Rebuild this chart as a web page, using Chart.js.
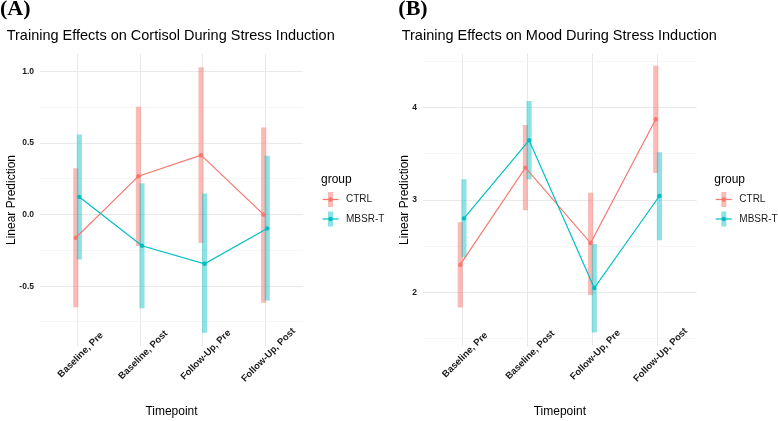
<!DOCTYPE html>
<html><head><meta charset="utf-8">
<script src="https://cdn.jsdelivr.net/npm/chart.js@4/dist/chart.umd.min.js"></script>
<style>
html,body{margin:0;padding:0;background:#fff;width:778px;height:421px;overflow:hidden}
canvas{position:absolute;top:0}
</style></head><body>
<canvas id="cA" width="389" height="421" style="left:0"></canvas>
<canvas id="cB" width="389" height="421" style="left:389px"></canvas>
<script>
// ---------- data ----------
const timepoints = ["Baseline, Pre", "Baseline, Post", "Follow-Up, Pre", "Follow-Up, Post"];
const groups = ["CTRL", "MBSR-T"];

const cortisolCtrl     = [-0.161, 0.269, 0.416, 0.000];
const cortisolCtrlLow  = [-0.645, -0.217, -0.196, -0.614];
const cortisolCtrlHigh = [0.322, 0.752, 1.028, 0.607];
const cortisolMbsr     = [0.124, -0.217, -0.343, -0.096];
const cortisolMbsrLow  = [-0.311, -0.652, -0.823, -0.598];
const cortisolMbsrHigh = [0.558, 0.217, 0.145, 0.409];

const moodCtrl     = [2.300, 3.350, 2.534, 3.874];
const moodCtrlLow  = [1.841, 2.892, 1.975, 3.296];
const moodCtrlHigh = [2.755, 3.809, 3.076, 4.448];
const moodMbsr     = [2.801, 3.646, 2.047, 3.043];
const moodMbsrLow  = [2.383, 3.227, 1.570, 2.567];
const moodMbsrHigh = [3.220, 4.069, 2.520, 3.513];

const cortisolMajorTicks = [-0.5, 0, 0.5, 1.0];
const cortisolMajorLabels = ["-0.5", "0.0", "0.5", "1.0"];
const cortisolMinorTicks = [-0.75, -0.25, 0.25, 0.75];
const moodMajorTicks = [2, 3, 4];
const moodMajorLabels = ["2", "3", "4"];
const moodMinorTicks = [1.5, 2.5, 3.5, 4.5];

// ---------- style ----------
const COLORS = ["#F8766D", "#00BFC4"];
const FILLS = ["rgba(248,118,109,0.5)", "rgba(0,191,196,0.45)"];
const SANS = '"Liberation Sans", Arial, sans-serif';
const DODGE = 0.028;

function makePanel(id, p) {
  const series = [
    {mid: p.ctrl, lo: p.ctrlLow, hi: p.ctrlHigh, d: -DODGE},
    {mid: p.mbsr, lo: p.mbsrLow, hi: p.mbsrHigh, d: DODGE}
  ];
  const datasets = [];
  series.forEach((s, k) => {
    datasets.push({
      type: 'bar', label: groups[k] + ' CI',
      data: timepoints.map((t, i) => ({x: i + 1 + s.d, y: [s.lo[i], s.hi[i]]})),
      backgroundColor: FILLS[k], borderWidth: 0, barThickness: 4.5, grouped: false,
      order: 10 - k
    });
  });
  series.forEach((s, k) => {
    datasets.push({
      type: 'line', label: groups[k],
      data: timepoints.map((t, i) => ({x: i + 1 + s.d, y: s.mid[i]})),
      borderColor: COLORS[k], backgroundColor: COLORS[k], borderWidth: 1.2,
      pointRadius: 2.2, pointBorderWidth: 0, pointBackgroundColor: COLORS[k],
      tension: 0, fill: false, order: 2 - k
    });
  });
  const allTicks = p.major.concat(p.minor).sort((a, b) => a - b);
  const isMajor = v => p.major.some(m => Math.abs(m - v) < 1e-9);

  const decor = {
    id: 'decor',
    afterDraw(chart) {
      const ctx = chart.ctx;
      ctx.save();
      ctx.fillStyle = '#000';
      ctx.textAlign = 'left'; ctx.textBaseline = 'alphabetic';
      ctx.font = 'bold 22px "Liberation Serif", "Times New Roman", serif';
      ctx.fillText(p.tag, p.tagX, 15);
      ctx.font = '14.5px ' + SANS;
      ctx.fillText(p.title, p.titleX, 39.5);
      // x tick labels
      const xs = chart.scales.x;
      ctx.font = 'bold 9.5px ' + SANS;
      ctx.fillStyle = '#1a1a1a';
      ctx.textAlign = 'center'; ctx.textBaseline = 'middle';
      timepoints.forEach((t, i) => {
        const px = xs.getPixelForValue(i + 1);
        ctx.save();
        ctx.translate(px + 3, 355);
        ctx.rotate(-Math.PI / 4);
        ctx.fillText(t, 0, 0);
        ctx.restore();
      });
      // legend
      const x0 = p.legendX;
      ctx.fillStyle = '#000';
      ctx.textAlign = 'left'; ctx.textBaseline = 'alphabetic';
      ctx.font = '12px ' + SANS;
      ctx.fillText('group', x0, 182.5);
      groups.forEach((g, k) => {
        const cy = 199.5 + k * 19.5;
        const cx = x0 + 9.5;
        ctx.fillStyle = FILLS[k];
        ctx.fillRect(cx - 2.5, cy - 7.5, 5, 15);
        ctx.strokeStyle = COLORS[k]; ctx.lineWidth = 1.2;
        ctx.beginPath(); ctx.moveTo(cx - 8, cy); ctx.lineTo(cx + 8, cy); ctx.stroke();
        ctx.fillStyle = COLORS[k];
        ctx.beginPath(); ctx.arc(cx, cy, 2.2, 0, Math.PI * 2); ctx.fill();
        ctx.fillStyle = '#1a1a1a';
        ctx.font = '10px ' + SANS; ctx.textBaseline = 'middle';
        ctx.fillText(g, x0 + 25, cy);
        ctx.textBaseline = 'alphabetic';
      });
      ctx.restore();
    }
  };

  return new Chart(document.getElementById(id), {
    type: 'line',
    data: {datasets},
    options: {
      responsive: false, animation: false, devicePixelRatio: 1,
      layout: {padding: {left: p.padLeft, right: p.padRight, top: 54, bottom: 0}},
      plugins: {legend: {display: false}, tooltip: {enabled: false}, title: {display: false}},
      scales: {
        x: {
          type: 'linear', min: 0.4, max: 4.6, offset: false,
          afterBuildTicks: s => { s.ticks = timepoints.map((t, i) => ({value: i + 1})); },
          afterFit: s => { s.height = 75; },
          ticks: {display: false},
          grid: {color: '#E9E9E9', lineWidth: 1, drawTicks: false, offset: false},
          border: {display: false},
          title: {display: true, text: 'Timepoint', color: '#000',
                  font: {family: SANS, size: 12}, padding: {top: 0, bottom: 2}}
        },
        y: {
          type: 'linear', min: p.yMin, max: p.yMax,
          afterBuildTicks: s => { s.ticks = allTicks.map(v => ({value: v})); },
          afterFit: s => { s.width = p.yWidth; },
          ticks: {
            padding: 6, color: '#1a1a1a',
            font: {family: SANS, size: 8.5, weight: 'bold'},
            callback: (v) => {
              const idx = p.major.findIndex(m => Math.abs(m - v) < 1e-9);
              return idx >= 0 ? p.majorLabels[idx] : '';
            }
          },
          grid: {
            drawTicks: false,
            color: c => isMajor(c.tick.value) ? '#E9E9E9' : '#F4F4F4',
            lineWidth: c => isMajor(c.tick.value) ? 1 : 0.8
          },
          border: {display: false},
          title: {display: true, text: 'Linear Prediction', color: '#000',
                  font: {family: SANS, size: 12}, padding: {top: 4, bottom: 0}}
        }
      }
    },
    plugins: [decor]
  });
}

makePanel('cA', {
  tag: '(A)', tagX: 0, title: 'Training Effects on Cortisol During Stress Induction', titleX: 6.7,
  ctrl: cortisolCtrl, ctrlLow: cortisolCtrlLow, ctrlHigh: cortisolCtrlHigh,
  mbsr: cortisolMbsr, mbsrLow: cortisolMbsrLow, mbsrHigh: cortisolMbsrHigh,
  major: cortisolMajorTicks, majorLabels: cortisolMajorLabels, minor: cortisolMinorTicks,
  yMin: -0.918, yMax: 1.123,
  padLeft: 0, yWidth: 40, padRight: 86, legendX: 321
});
makePanel('cB', {
  tag: '(B)', tagX: 9.3, title: 'Training Effects on Mood During Stress Induction', titleX: 12.7,
  ctrl: moodCtrl, ctrlLow: moodCtrlLow, ctrlHigh: moodCtrlHigh,
  mbsr: moodMbsr, mbsrLow: moodMbsrLow, mbsrHigh: moodMbsrHigh,
  major: moodMajorTicks, majorLabels: moodMajorLabels, minor: moodMinorTicks,
  yMin: 1.42, yMax: 4.58,
  padLeft: 4, yWidth: 30, padRight: 81.3, legendX: 325.3
});
</script>
</body></html>
